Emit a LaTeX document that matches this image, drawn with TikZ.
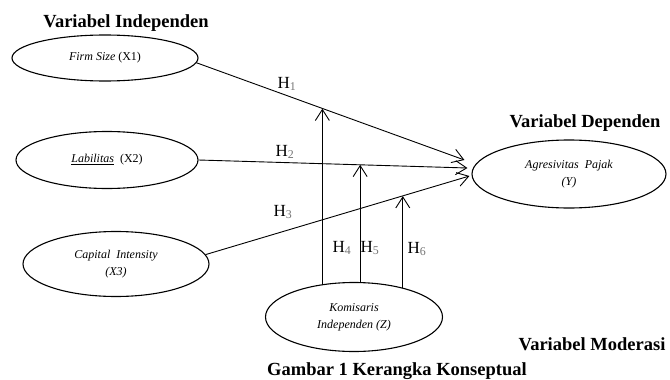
\documentclass[tikz,border=0pt]{standalone}
\usepackage{xcolor}
\usepackage{fontspec}
\setmainfont{Liberation Serif}
\usepackage{tikz}
\usetikzlibrary{shapes.geometric, arrows.meta, positioning, calc}
\newcommand{\Hlab}[1]{H\textsubscript{\textcolor{black!55}{#1}}}

\begin{document}
\begin{tikzpicture}
  [
    x=1pt, y=-1pt,
    Oval/.style={ellipse, draw=black, line width=1.1pt, inner sep=0pt, align=center, font=\fontsize{12}{17}\selectfont\itshape},
    Title/.style={font=\fontsize{18.5}{21}\selectfont\bfseries, inner sep=0pt},
    Hyp/.style={font=\fontsize{17}{19}\selectfont, inner sep=0pt},
    Arrow/.style={-{Straight Barb[length=11pt, width=14pt]}, draw, line width=0.9pt}
  ]
  \useasboundingbox (0, 0) rectangle (670, 380);

  % Nodes
  \node[Oval, minimum width=186pt, minimum height=46pt] (fs) at(105, 58) {Firm Size \upshape(X1)};
  \node[Oval, minimum width=182pt, minimum height=57pt] (lab) at(107, 160) {\underline{Labilitas}\ \ \upshape(X2)};
  \node[Oval, minimum width=186pt, minimum height=65pt] (cap) at(116, 264) {Capital\ \ Intensity\\(X3)};
  \node[Oval, minimum width=194pt, minimum height=68pt] (dep) at(569, 174) {Agresivitas\ \ Pajak\\(Y)};
  \node[Oval, minimum width=177pt, minimum height=69pt] (mod) at(354, 317) {Komisaris\\Independen (Z)};

  \node[Title] (tind) at(126, 23) {Variabel Independen};
  \node[Title] (tdep) at(585, 123) {Variabel Dependen};
  \node[Title] (tmod) at(592, 344) {Variabel Moderasi};
  \node[Title] (cap1) at(397, 371) {Gambar 1 Kerangka Konseptual};

  \coordinate (in1) at ($(dep.west)+(-7, -14)$);
  \coordinate (in2) at ($(dep.west)+(-4, -6)$);
  \coordinate (in3) at ($(dep.west)+(-2, 2)$);

  % Lines
  \path [Arrow] (fs.-3) -- (in1);
  \path [Arrow] (lab.east) -- (in2);
  \path [Arrow] (cap.6) -- (in3);

  \coordinate (m1) at ($(fs.-3)!0.472!(in1)$);
  \coordinate (m2) at ($(lab.east)!0.6!(in2)$);
  \coordinate (m3) at ($(cap.6)!0.744!(in3)$);

  \path [Arrow] (mod.134) -- (mod.134 |- m1);
  \path [Arrow] (mod.80) -- (mod.80 |- m2);
  \path [Arrow] (mod.31) -- (mod.31 |- m3);

  % Labels
  \node[Hyp] (h1) at(287, 84) {\Hlab{1}};
  \node[Hyp] (h2) at(285, 152) {\Hlab{2}};
  \node[Hyp] (h3) at(283, 212) {\Hlab{3}};
  \node[Hyp] (h4) at(342, 248) {\Hlab{4}};
  \node[Hyp] (h5) at(370, 248) {\Hlab{5}};
  \node[Hyp] (h6) at(417, 249) {\Hlab{6}};

\end{tikzpicture}
\end{document}
